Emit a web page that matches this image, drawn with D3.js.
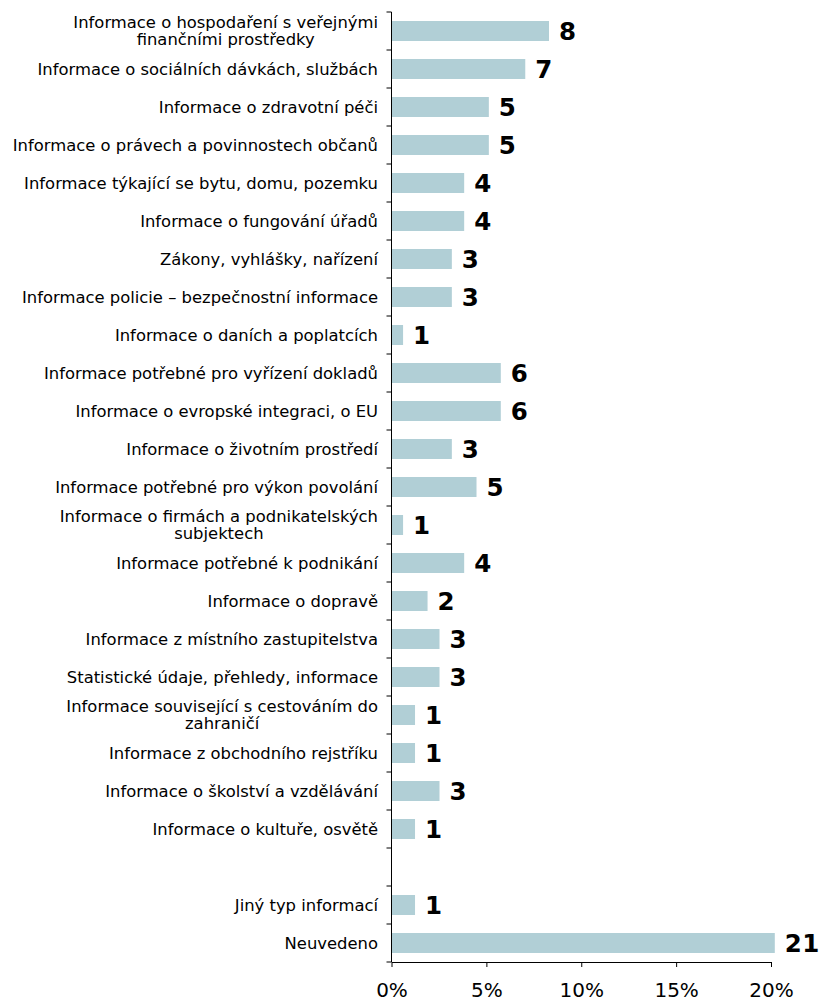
<!DOCTYPE html>
<html><head><meta charset="utf-8">
<script src="https://cdn.jsdelivr.net/npm/d3@7"></script>
<style>body{margin:0;background:#fff}</style>
</head><body>
<svg id="chart" width="830" height="1002"></svg>
<script>
const categories = [
  "Informace o hospodaření s veřejnými\nfinančními prostředky",
  "Informace o sociálních dávkách, službách",
  "Informace o zdravotní péči",
  "Informace o právech a povinnostech občanů",
  "Informace týkající se bytu, domu, pozemku",
  "Informace o fungování úřadů",
  "Zákony, vyhlášky, nařízení",
  "Informace policie – bezpečnostní informace",
  "Informace o daních a poplatcích",
  "Informace potřebné pro vyřízení dokladů",
  "Informace o evropské integraci, o EU",
  "Informace o životním prostředí",
  "Informace potřebné pro výkon povolání",
  "Informace o firmách a podnikatelských\nsubjektech",
  "Informace potřebné k podnikání",
  "Informace o dopravě",
  "Informace z místního zastupitelstva",
  "Statistické údaje, přehledy, informace",
  "Informace související s cestováním do\nzahraničí",
  "Informace z obchodního rejstříku",
  "Informace o školství a vzdělávání",
  "Informace o kultuře, osvětě",
  "",
  "Jiný typ informací",
  "Neuvedeno"
];
const values = [8.3, 7.05, 5.13, 5.13, 3.83, 3.83, 3.18, 3.18, 0.61, 5.76, 5.76, 3.18, 4.48, 0.61, 3.83, 1.9, 2.53, 2.53, 1.24, 1.24, 2.53, 1.24, null, 1.24, 20.2];
const valueLabels = ["8","7","5","5","4","4","3","3","1","6","6","3","5","1","4","2","3","3","1","1","3","1","","1","21"];
const xTicks = [0, 5, 10, 15, 20];

(function(){
const svg = d3.select("#chart");
const mLeft = 391.5, mRight = 771, mTop = 12, mBottom = 962;
const idx = categories.map((d, i) => i);
const x = d3.scaleLinear().domain([0, 20]).range([mLeft, mRight]);
const y = d3.scaleBand().domain(idx).range([mTop, mBottom]).paddingInner(0.474).paddingOuter(0.237);
const font = "'DejaVu Sans', Verdana, sans-serif";

// bars
svg.append("g").selectAll("rect")
  .data(idx.filter(i => values[i] != null))
  .join("rect")
  .attr("x", x(0) + 0.5)
  .attr("y", i => y(i))
  .attr("width", i => x(values[i]) - x(0) - 0.5)
  .attr("height", y.bandwidth())
  .attr("fill", "#B1CFD6");

// value labels
svg.append("g").selectAll("text")
  .data(idx.filter(i => values[i] != null))
  .join("text")
  .attr("x", i => x(values[i]) + 10)
  .attr("y", i => y(i) + y.bandwidth() / 2)
  .attr("dy", "0.36em")
  .attr("font-family", font)
  .attr("font-weight", "bold")
  .attr("font-size", "24.5px")
  .attr("letter-spacing", "0.5px")
  .attr("fill", "#000")
  .text(i => valueLabels[i]);

// y axis
const step = y.step();
const yAxis = svg.append("g");
yAxis.append("line").attr("x1", mLeft).attr("x2", mLeft).attr("y1", mTop).attr("y2", mBottom).attr("stroke", "#000").attr("stroke-width", 1);
yAxis.selectAll("line.tick").data(d3.range(categories.length + 1)).join("line")
  .attr("class", "tick")
  .attr("x1", mLeft - 5).attr("x2", mLeft)
  .attr("y1", i => mTop + i * step).attr("y2", i => mTop + i * step)
  .attr("stroke", "#000");

// category labels
const labelRight = 378;
const lineH = 17.5;
const lg = svg.append("g").attr("font-family", font).attr("font-size", "16.4px").attr("fill", "#000");
idx.forEach(i => {
  if (!categories[i]) return;
  const lines = categories[i].split("\n");
  const t = lg.append("text").attr("text-anchor", "middle");
  const cy = y(i) + y.bandwidth() / 2;
  lines.forEach((ln, k) => {
    t.append("tspan").attr("y", cy + 5.5 + (k - (lines.length - 1) / 2) * lineH).text(ln);
  });
  let maxw = 0;
  t.selectAll("tspan").each(function(){ maxw = Math.max(maxw, this.getComputedTextLength()); });
  t.selectAll("tspan").attr("x", labelRight - maxw / 2);
});

// x axis
const xAxis = svg.append("g").attr("transform", `translate(0,${mBottom})`)
  .call(d3.axisBottom(x).tickValues(xTicks).tickFormat(d => d + "%").tickSize(5).tickSizeOuter(0));
xAxis.select(".domain").attr("stroke", "#000");
xAxis.selectAll(".tick line").attr("stroke", "#000");
xAxis.selectAll(".tick text").attr("font-family", font).attr("font-size", "20px").attr("fill", "#000").attr("dy", "1.35em");
})();
</script>
</body></html>
